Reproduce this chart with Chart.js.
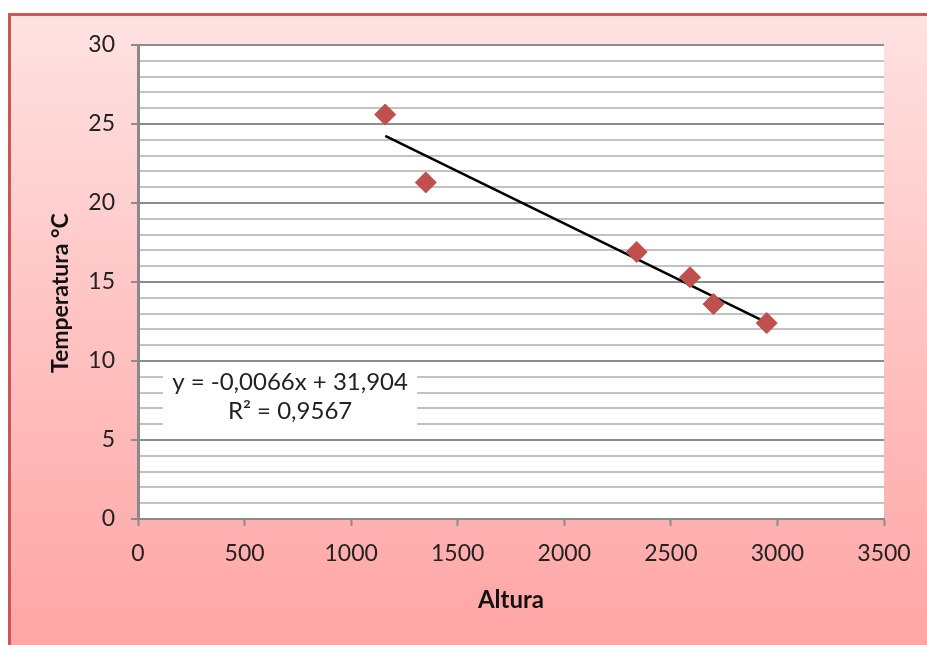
<!DOCTYPE html>
<html>
<head>
<meta charset="utf-8">
<script src="https://cdn.jsdelivr.net/npm/chart.js@4.4.1/dist/chart.umd.min.js"></script>
<style>
  html, body { margin: 0; padding: 0; background: #fff; }
  body { width: 927px; height: 645px; position: relative; overflow: hidden; }
  .frame {
    position: absolute; left: 8px; top: 13px; width: 940px; height: 660px;
    border-left: 3px solid #cc5555; border-top: 3px solid #cc5555;
    background: linear-gradient(to bottom, #ffe2e2 0%, #ffc4c4 45%, #ffa2a2 100%);
  }
  .wrap { position: absolute; left: 0; top: 0; width: 927px; height: 645px; }
</style>
</head>
<body>
<div class="frame"></div>
<div class="wrap"><canvas id="myChart"></canvas></div>
<script>
const altura = [1160, 1350, 2340, 2590, 2700, 2950];
const temperatura = [25.6, 21.3, 16.9, 15.3, 13.6, 12.4];
// trend line ends as drawn on the picture
const trendX = [1160, 2950];
const trendY = [24.25, 12.43];
const equation = ["y = -0,0066x + 31,904", "R\u00b2 = 0,9567"];

const font = "Lato, 'Open Sans', sans-serif";

// white plot area
const plotBg = {
  id: "plotBg",
  beforeDraw(chart) {
    const a = chart.chartArea;
    chart.ctx.save();
    chart.ctx.fillStyle = "#ffffff";
    chart.ctx.fillRect(a.left, a.top, a.right - a.left, a.bottom - a.top);
    chart.ctx.restore();
  },
};

const eqBox = {
  id: "eqBox",
  afterDatasetsDraw(chart) {
    const c = chart.ctx;
    const xs = chart.scales.x, ys = chart.scales.y;
    const l = xs.getPixelForValue(117), r = xs.getPixelForValue(1310);
    const t = ys.getPixelForValue(9.87), b = ys.getPixelForValue(5.5);
    c.save();
    c.fillStyle = "#ffffff";
    c.fillRect(l, t, r - l, b - t);
    c.fillStyle = "#222";
    c.font = "24px " + font;
    c.textAlign = "center";
    c.textBaseline = "middle";
    c.fillText(equation[0], (l + r) / 2, t + 19);
    c.fillText(equation[1], (l + r) / 2, t + 48);
    c.restore();
  },
};

const ctx = document.getElementById("myChart");
const myChart = new Chart(ctx, {
  type: "scatter",
  data: {
    datasets: [
      {
        label: "Temperatura",
        data: altura.map((a, i) => ({ x: a, y: temperatura[i] })),
        pointStyle: "rectRot",
        pointRadius: 10.5,
        pointBackgroundColor: "#c0504d",
        pointBorderColor: "#c0504d",
        pointBorderWidth: 1,
        order: 1,
      },
      {
        label: "Tendencia",
        type: "line",
        data: trendX.map((a, i) => ({ x: a, y: trendY[i] })),
        borderColor: "#000",
        borderWidth: 2.5,
        pointRadius: 0,
        fill: false,
        order: 2,
      },
    ],
  },
  options: {
    responsive: true,
    maintainAspectRatio: false,
    animation: false,
    layout: { padding: { left: 0, top: 45, right: 43, bottom: 0 } },
    plugins: {
      legend: false,
      tooltip: { enabled: false },
    },
    scales: {
      x: {
        type: "linear",
        min: 0,
        max: 3500,
        afterFit: (s) => { s.height = 126; },
        ticks: {
          stepSize: 500,
          autoSkip: false,
          maxRotation: 0,
          padding: 14,
          color: "#222",
          font: { family: font, size: 23 },
          callback: (v) => String(v),
        },
        grid: {
          drawOnChartArea: false,
          drawTicks: true,
          tickLength: 7,
          tickColor: "#8a8a8a",
          tickWidth: 2,
        },
        border: { color: "#8a8a8a", width: 2 },
        title: {
          display: true,
          text: "Altura",
          color: "#111",
          font: { family: font, size: 24, weight: "bold" },
          padding: { bottom: 30 },
        },
      },
      y: {
        min: 0,
        max: 30,
        afterFit: (s) => { s.width = 138; },
        ticks: {
          stepSize: 1,
          autoSkip: false,
          padding: 16,
          color: "#222",
          font: { family: font, size: 23 },
          callback: (v) => (v % 5 === 0 ? v : ""),
        },
        grid: {
          color: (c) => (c.tick && c.tick.value % 5 === 0 ? "#8c8c8c" : "#c2c2c2"),
          lineWidth: 2,
          tickLength: 7,
          tickColor: (c) => (c.tick && c.tick.value % 5 === 0 ? "#8c8c8c" : "rgba(0,0,0,0)"),
          tickWidth: 2,
        },
        border: { color: "#8a8a8a", width: 3 },
        title: {
          display: true,
          // trailing spaces push the title a little lower, as in the picture
          text: "Temperatura \u00b0C\u00a0\u00a0\u00a0\u00a0",
          color: "#111",
          font: { family: font, size: 23, weight: "bold" },
          padding: { top: 47 },
        },
      },
    },
  },
  plugins: [plotBg, eqBox],
});
</script>
</body>
</html>
